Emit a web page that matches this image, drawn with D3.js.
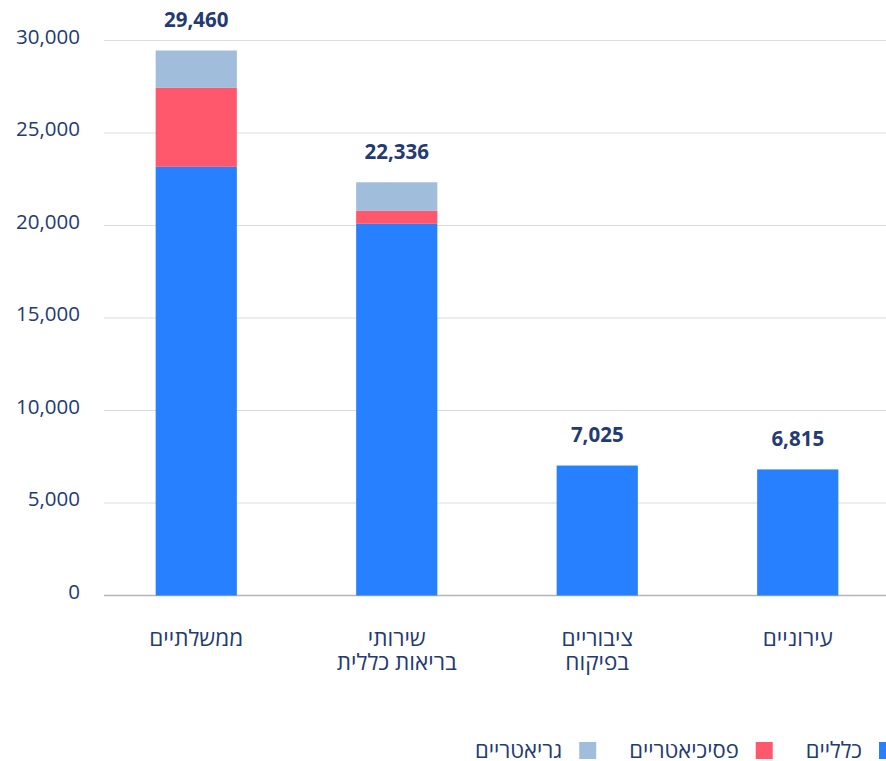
<!DOCTYPE html>
<html><head><meta charset="utf-8">
<script src="https://cdn.jsdelivr.net/npm/d3@7/dist/d3.min.js"></script>
<style>
html,body{margin:0;padding:0;background:#fff;}
svg{display:block;font-family:"Open Sans","Liberation Sans",sans-serif;}
</style></head>
<body><svg id="chart" width="886" height="761"></svg>
<script>
const categories = [["ממשלתיים"], ["שירותי", "בריאות כללית"], ["ציבוריים", "בפיקוח"], ["עירוניים"]];
const seriesNames = ["כלליים", "פסיכיאטריים", "גריאטריים"];
const generalVals = [23170, 20090, 7025, 6815];
const psychVals = [4270, 700, 0, 0];
const geriVals = [2020, 1546, 0, 0];
const yTicks = [0, 5000, 10000, 15000, 20000, 25000, 30000];
const colors = ["#2680ff", "#ff586c", "#a1bddc"];
const textColor = "#243a73";

const svg = d3.select("#chart");
const rows = categories.map((c, i) => ({i, general: generalVals[i], psych: psychVals[i], geri: geriVals[i]}));
const keys = ["general", "psych", "geri"];
const stack = d3.stack().keys(keys)(rows);

const x = d3.scaleBand().domain(d3.range(categories.length)).range([96, 898]).paddingInner(0.595).paddingOuter(0.2975);
const y = d3.scaleLinear().domain([0, 30000]).range([595.5, 40.5]);

// gridlines
svg.append("g").selectAll("line").data(yTicks).join("line")
  .attr("x1", 104).attr("x2", 886)
  .attr("y1", d => y(d)).attr("y2", d => y(d))
  .attr("stroke", d => d === 0 ? "#b5b5b5" : "#dcdcdc").attr("stroke-width", d => d === 0 ? 1.5 : 1);

// y axis labels
const fmt = d3.format(",");
svg.append("g").selectAll("text").data(yTicks).join("text")
  .attr("x", 80).attr("y", d => y(d) + 3)
  .attr("text-anchor", "end").attr("font-size", 20.5).attr("fill", textColor)
  .text(d => fmt(d));

// bars
stack.forEach((s, si) => {
  svg.append("g").attr("fill", colors[si]).selectAll("rect").data(s).join("rect")
    .attr("x", d => x(d.data.i)).attr("width", x.bandwidth())
    .attr("y", d => y(d[1])).attr("height", d => y(d[0]) - y(d[1]));
});

// totals
svg.append("g").selectAll("text").data(rows).join("text")
  .attr("x", d => x(d.i) + x.bandwidth() / 2)
  .attr("y", d => y(d.general + d.psych + d.geri) - 23.5)
  .attr("text-anchor", "middle").attr("font-size", 20.5).attr("font-weight", "bold").attr("fill", textColor)
  .text(d => fmt(d.general + d.psych + d.geri));

// category labels
const cl = svg.append("g").selectAll("text").data(categories).join("text")
  .attr("text-anchor", "middle").attr("font-size", 22.5).attr("fill", textColor);
cl.each(function(lines, i) {
  const t = d3.select(this);
  lines.forEach((ln, k) => {
    t.append("tspan").attr("x", x(i) + x.bandwidth() / 2).attr("y", 646 + k * 24).text(ln);
  });
});

// legend (RTL)
let rightEdge = 896;
const lg = svg.append("g");
seriesNames.forEach((name, i) => {
  const sq = 17;
  lg.append("rect").attr("x", rightEdge - sq).attr("y", 742).attr("width", sq).attr("height", sq).attr("fill", colors[i]);
  const tx = lg.append("text").attr("x", rightEdge - sq - 17).attr("y", 758)
    .attr("text-anchor", "end").attr("font-size", 22).attr("fill", textColor).text(name);
  const w = tx.node().getComputedTextLength();
  rightEdge = rightEdge - sq - 17 - w - 33;
});
</script></body></html>
